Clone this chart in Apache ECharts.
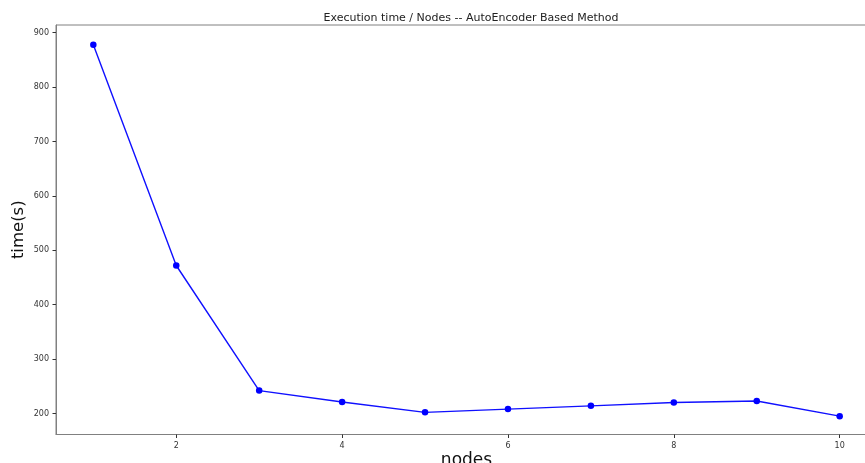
<!DOCTYPE html>
<html>
<head>
<meta charset="utf-8">
<script src="https://cdn.jsdelivr.net/npm/echarts@6/dist/echarts.min.js"></script>
<style>
html,body{margin:0;padding:0;background:#fff;}
#chart{width:865px;height:463px;}
</style>
</head>
<body>
<div id="chart"></div>
<script>
const nodes = [1, 2, 3, 4, 5, 6, 7, 8, 9, 10];
const times = [878, 472, 242, 221, 202, 208, 214, 220, 223, 195];
const xTicks = [2, 4, 6, 8, 10];
const yTicks = [200, 300, 400, 500, 600, 700, 800, 900];

const chart = echarts.init(document.getElementById('chart'));
const font = 'DejaVu Sans';
chart.setOption({
  animation: false,
  title: {
    text: 'Execution time / Nodes -- AutoEncoder Based Method',
    left: 466, top: 8, textAlign: 'center',
    textStyle: {fontFamily: font, fontSize: 11, fontWeight: 'normal', color: '#222'}
  },
  grid: {left: 56, top: 25, right: -12, bottom: 28.5, outerBoundsMode: 'none', containLabel: false, show: true, borderColor: '#808080', borderWidth: 1, backgroundColor: 'transparent'},
  xAxis: {
    type: 'value', min: 0.55, max: 10.45,
    name: 'nodes', nameLocation: 'middle', nameGap: 18, nameMoveOverlap: false,
    nameTextStyle: {fontFamily: font, fontSize: 17, color: '#111'},
    axisLine: {show: true, lineStyle: {color: '#808080', width: 1}},
    axisTick: {show: true, customValues: xTicks, length: 3.5, lineStyle: {color: '#333'}},
    axisLabel: {customValues: xTicks, fontFamily: font, fontSize: 8, color: '#333', margin: 7},
    splitLine: {show: false}
  },
  yAxis: {
    type: 'value', min: 161.3, max: 914.2,
    name: 'time(s)', nameLocation: 'middle', nameGap: 29, nameMoveOverlap: false,
    nameTextStyle: {fontFamily: font, fontSize: 16.5, color: '#111'},
    axisLine: {show: true, lineStyle: {color: '#808080', width: 1}},
    axisTick: {show: true, customValues: yTicks, length: 3.5, lineStyle: {color: '#333'}},
    axisLabel: {customValues: yTicks, fontFamily: font, fontSize: 8, color: '#333', margin: 7},
    splitLine: {show: false}
  },
  series: [{
    type: 'line',
    data: nodes.map((n, i) => [n, times[i]]),
    symbol: 'circle', symbolSize: 6.5,
    lineStyle: {color: '#1010ff', width: 1.4},
    itemStyle: {color: '#0000ff'}
  }]
});
</script>
</body>
</html>
